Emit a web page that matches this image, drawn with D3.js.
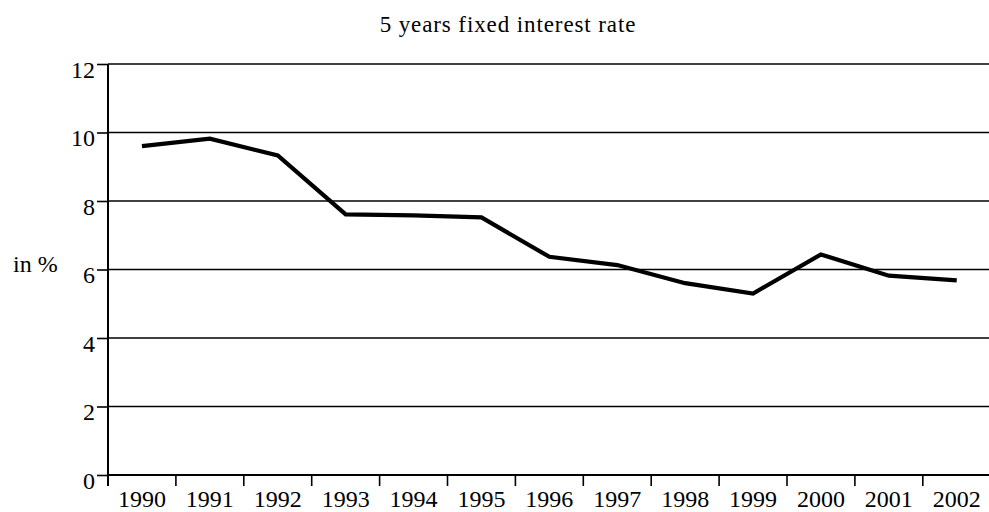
<!DOCTYPE html>
<html>
<head>
<meta charset="utf-8">
<script src="https://cdn.jsdelivr.net/npm/d3@7"></script>
<style>
  html, body { margin: 0; padding: 0; background: #fff; }
  svg { display: block; }
</style>
</head>
<body>
<svg id="chart" width="989" height="512"></svg>
<script>
const years = ["1990","1991","1992","1993","1994","1995","1996","1997","1998","1999","2000","2001","2002"];
const rates = [9.6, 9.82, 9.33, 7.61, 7.58, 7.52, 6.37, 6.13, 5.6, 5.3, 6.44, 5.82, 5.68];
const yTicks = [0, 2, 4, 6, 8, 10, 12];
const title = "5 years fixed interest rate";
const yLabel = "in %";

(function () {
const FONT = "'Liberation Serif', 'Times New Roman', 'DejaVu Serif', serif";
const svg = d3.select("#chart");
const mLeft = 108, mRight = 108 + 13 * 67.9, mTop = 64, mBottom = 475;

const x = d3.scaleBand().domain(years).range([mLeft, mRight]).padding(0);
const y = d3.scaleLinear().domain([0, 12]).range([mBottom, mTop]);

// gridlines
svg.append("g").selectAll("line").data(yTicks.filter(d => d > 0)).join("line")
  .attr("x1", mLeft).attr("x2", 989)
  .attr("y1", d => y(d)).attr("y2", d => y(d))
  .attr("stroke", "#000").attr("stroke-width", 1.6);

// y axis
const yAxis = svg.append("g").attr("transform", `translate(${mLeft},0)`)
  .call(d3.axisLeft(y).tickValues(yTicks).tickSize(11).tickSizeOuter(0).tickPadding(2));
yAxis.attr("font-family", null).attr("font-size", null);
yAxis.select(".domain").remove();
yAxis.selectAll(".tick line").attr("stroke", "#000").attr("stroke-width", 1.6);
yAxis.selectAll(".tick text").style("font-size", "24px").style("font-family", FONT).attr("fill", "#000").attr("dy", "0.55em");
svg.append("line").attr("x1", mLeft).attr("x2", mLeft).attr("y1", mTop).attr("y2", mBottom + 11)
  .attr("stroke", "#000").attr("stroke-width", 2);

// x axis baseline
svg.append("line").attr("x1", mLeft).attr("x2", 989).attr("y1", mBottom).attr("y2", mBottom)
  .attr("stroke", "#000").attr("stroke-width", 2.2);

// x tick marks at band boundaries
svg.append("g").selectAll("line").data(years.slice(1)).join("line")
  .attr("x1", d => x(d)).attr("x2", d => x(d))
  .attr("y1", mBottom).attr("y2", mBottom + 11)
  .attr("stroke", "#000").attr("stroke-width", 1.6);

// x labels
const xAxis = svg.append("g").attr("transform", `translate(0,${mBottom})`)
  .call(d3.axisBottom(x).tickSize(0).tickPadding(15));
xAxis.attr("font-family", null).attr("font-size", null);
xAxis.select(".domain").remove();
xAxis.selectAll(".tick text").style("font-size", "24px").style("font-family", FONT).attr("fill", "#000");

// line
const line = d3.line().x((d, i) => x(years[i]) + x.bandwidth() / 2).y(d => y(d));
svg.append("path").datum(rates).attr("d", line)
  .attr("fill", "none").attr("stroke", "#000").attr("stroke-width", 4.2)
  .attr("stroke-linejoin", "miter");

// title
svg.append("text").attr("x", 508).attr("y", 32).attr("text-anchor", "middle")
  .style("font-size", "23px").style("letter-spacing", "0.9px").style("font-family", FONT).text(title);

// y label
svg.append("text").attr("x", 13).attr("y", 272)
  .style("font-size", "24px").style("font-family", FONT).text(yLabel);
})();
</script>
</body>
</html>
